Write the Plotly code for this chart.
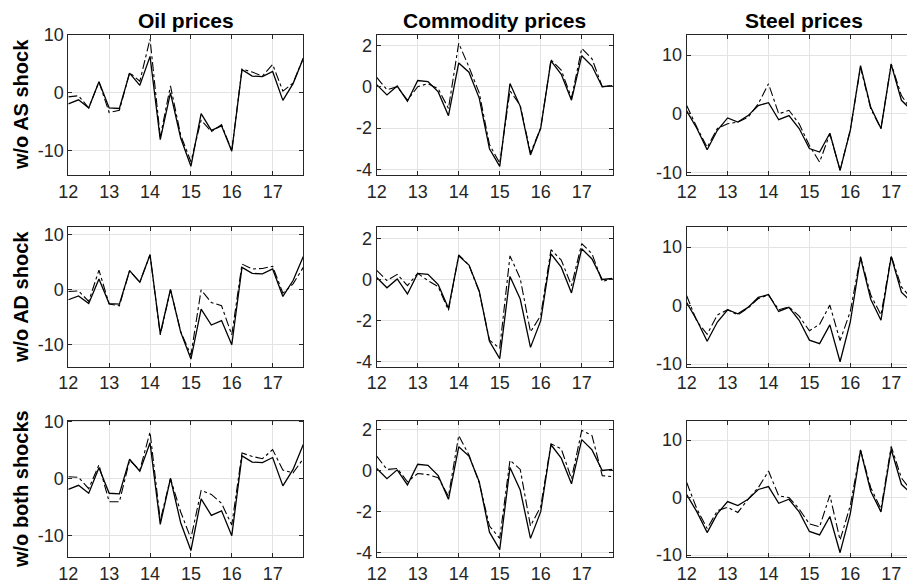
import plotly.graph_objects as go

# quarters 2012Q1 .. 2017Q4 shown as 12, 12.25, ..., 17.75
quarters = [12 + 0.25 * k for k in range(24)]

col_titles = ["Oil prices", "Commodity prices", "Steel prices"]
row_labels = ["w/o AS shock", "w/o AD shock", "w/o both shocks"]

oil_actual = [-1.9, -1.2, -2.6, 1.9, -2.6, -2.7, 3.4, 1.3, 6.3, -8.1, 0.0, -7.8,
              -12.7, -3.6, -6.5, -5.7, -10.1, 4.0, 2.9, 2.8, 3.7, -1.3, 1.6, 6.0]
oil_no_as = [-0.7, -0.5, -2.6, 1.9, -3.4, -3.0, 3.5, 2.0, 9.3, -7.6, 1.2, -7.3,
             -11.9, -4.7, -6.7, -5.5, -10.0, 4.1, 3.6, 2.9, 4.9, 0.3, 1.7, 6.0]
oil_no_ad = [-0.4, -0.3, -2.2, 3.5, -2.7, -3.0, 3.4, 1.3, 6.3, -8.3, -0.1, -7.7,
             -12.0, -0.1, -2.4, -3.0, -8.3, 4.6, 3.7, 3.8, 4.2, -0.7, 1.0, 4.0]
oil_no_both = [0.3, 0.2, -1.8, 2.4, -4.1, -4.1, 3.2, 1.5, 8.2, -7.4, 0.0, -5.9,
               -10.6, -2.1, -2.8, -4.4, -8.2, 4.5, 3.9, 3.5, 5.1, 1.5, 1.0, 3.5]

com_actual = [0.1, -0.4, 0.03, -0.7, 0.3, 0.25, -0.25, -1.4, 1.15, 0.7, -0.55, -3.0,
              -3.85, 0.15, -0.95, -3.3, -2.0, 1.25, 0.6, -0.65, 1.5, 1.0, 0.0, 0.05]
com_no_as = [0.45, -0.15, 0.0, -0.65, 0.0, 0.15, -0.1, -1.05, 2.1, 0.95, -0.3, -2.8,
             -3.7, -0.2, -0.9, -3.2, -2.0, 1.3, 0.8, -0.55, 1.85, 1.35, 0.0, 0.05]
com_no_ad = [0.45, -0.05, 0.25, -0.3, 0.3, -0.05, -0.35, -1.5, 1.2, 0.7, -0.6, -2.95,
             -3.35, 1.15, 0.05, -2.55, -1.75, 1.45, 0.95, -0.3, 1.75, 1.25, -0.1, 0.05]
com_no_both = [0.7, 0.05, 0.1, -0.55, -0.15, -0.2, -0.35, -1.25, 1.7, 0.75, -0.6, -2.7,
               -3.3, 0.5, 0.05, -2.7, -1.75, 1.3, 1.05, -0.4, 1.95, 1.7, -0.25, -0.3]

steel_actual = [0.5, -2.5, -6.1, -2.8, -0.7, -1.4, -0.3, 1.4, 1.9, -1.0, -0.3, -2.5,
                -5.9, -6.5, -3.3, -9.6, -2.8, 8.2, 1.1, -2.5, 8.4, 2.3, 0.6, -1.1]
steel_no_as = [1.4, -2.3, -5.7, -2.5, -1.7, -1.4, -0.6, 1.7, 5.1, 0.0, 0.6, -1.7,
               -5.4, -8.2, -3.4, -9.6, -2.7, 7.9, 0.85, -2.5, 8.5, 3.1, 0.6, -1.1]
steel_no_ad = [1.7, -2.7, -4.9, -1.6, -0.7, -1.6, -0.4, 1.2, 1.8, -0.7, -0.2, -1.8,
               -4.3, -3.2, 0.1, -6.0, -1.0, 8.4, 1.8, -1.6, 8.5, 3.2, 1.2, -1.8]
steel_no_both = [2.6, -2.0, -5.4, -2.3, -1.7, -2.6, -0.3, 1.7, 4.6, 0.3, 0.0, -2.0,
                 -4.6, -5.1, 0.4, -7.4, -1.4, 8.3, 1.7, -2.0, 8.9, 3.4, 1.1, -2.6]

actual = [oil_actual, com_actual, steel_actual]
counterfactual = [
    [oil_no_as, com_no_as, steel_no_as],
    [oil_no_ad, com_no_ad, steel_no_ad],
    [oil_no_both, com_no_both, steel_no_both],
]

x_ticks = [12, 13, 14, 15, 16, 17]
y_ticks = [[-10, 0, 10], [-4, -2, 0, 2], [-10, 0, 10]]
y_ranges = [
    [[-14.2, 10.0], [-4.27, 2.5], [-10.4, 13.4]],
    [[-14.1, 11.3], [-4.24, 2.54], [-10.45, 13.4]],
    [[-13.9, 10.2], [-4.22, 2.42], [-10.4, 13.36]],
]

# page body has an 8px default margin: the figure is placed at (8, 8)
OFF = 8
VW, VH = 915, 588
W, H = VW - OFF, VH - OFF


def px_x(p):
    return (p - OFF) / W


def px_y(p):
    return 1 - (p - OFF) / H


col_px = [(68.3, 303.3), (376.7, 612.5), (686.7, 915.0)]
x_ranges = [[12, 17.75], [12, 17.75], [12, 12 + (915.0 - 686.7) / 40.9]]
row_px = [(35.0, 175.0), (227.3, 366.7), (420.7, 557.3)]

AX = "#262626"
GRID = "#e3e3e3"
FONT = "Liberation Sans, Arial, sans-serif"
TICK_SIZE = 18
HEAD_SIZE = 21
ROW_SIZE = 20

fig = go.Figure()
layout = dict(
    width=W, height=H,
    margin=dict(l=0, r=0, t=0, b=0, pad=0, autoexpand=False),
    paper_bgcolor="white", plot_bgcolor="white",
    showlegend=False,
    font=dict(family=FONT, size=TICK_SIZE, color=AX),
)

annotations = []
idx = 0
for r in range(3):
    for c in range(3):
        idx += 1
        xa = "x" if idx == 1 else f"x{idx}"
        ya = "y" if idx == 1 else f"y{idx}"
        fig.add_trace(go.Scatter(x=quarters, y=actual[c], xaxis=xa, yaxis=ya,
                                 mode="lines", line=dict(color="black", width=1.3),
                                 hoverinfo="skip"))
        fig.add_trace(go.Scatter(x=quarters, y=counterfactual[r][c], xaxis=xa, yaxis=ya,
                                 mode="lines", line=dict(color="black", width=1.1, dash="dashdot"),
                                 hoverinfo="skip"))
        x0, x1 = col_px[c]
        yt, yb = row_px[r]
        xkey = "xaxis" if idx == 1 else f"xaxis{idx}"
        ykey = "yaxis" if idx == 1 else f"yaxis{idx}"
        layout[xkey] = dict(
            domain=[px_x(x0), min(1.0, px_x(x1))], anchor=ya, range=x_ranges[c],
            tickvals=x_ticks, ticktext=[str(v) for v in x_ticks],
            ticks="inside", ticklen=4, tickcolor=AX, tickwidth=1,
            showline=True, linecolor=AX, linewidth=1, mirror="ticks",
            showgrid=True, gridcolor=GRID, gridwidth=1, zeroline=False,
            automargin=False,
            tickfont=dict(size=TICK_SIZE, color=AX, family=FONT),
        )
        layout[ykey] = dict(
            domain=[px_y(yb), px_y(yt)], anchor=xa, range=y_ranges[r][c],
            tickvals=y_ticks[c], ticktext=[str(v) for v in y_ticks[c]],
            ticks="inside", ticklen=4, tickcolor=AX, tickwidth=1,
            showline=True, linecolor=AX, linewidth=1,
            mirror=("ticks" if c < 2 else False),
            showgrid=True, gridcolor=GRID, gridwidth=1, zeroline=False,
            automargin=False,
            tickfont=dict(size=TICK_SIZE, color=AX, family=FONT),
        )

title_centers = [185.8, 494.6, 804.0]
for c in range(3):
    annotations.append(dict(
        text=f"<b>{col_titles[c]}</b>", x=px_x(title_centers[c]), y=px_y(20),
        xref="paper", yref="paper", xanchor="center", yanchor="middle",
        showarrow=False, font=dict(size=HEAD_SIZE, color="black", family=FONT),
    ))
for r in range(3):
    yt, yb = row_px[r]
    annotations.append(dict(
        text=f"<b>{row_labels[r]}</b>", x=px_x(21), y=px_y((yt + yb) / 2),
        xref="paper", yref="paper", xanchor="center", yanchor="middle",
        textangle=-90, showarrow=False,
        font=dict(size=ROW_SIZE, color="black", family=FONT),
    ))
layout["annotations"] = annotations

fig.update_layout(**layout)
fig.write_html("out.html")
